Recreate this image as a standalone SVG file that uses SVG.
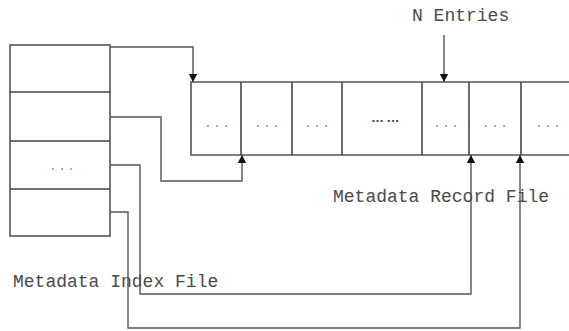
<svg xmlns="http://www.w3.org/2000/svg" width="569" height="331" viewBox="0 0 569 331">
<style>
.box{fill:#fff;stroke:#555;stroke-width:1.6}
.div{stroke:#444;stroke-width:1.6}
.conn{fill:none;stroke:#555;stroke-width:1.4}
.lbl{font-family:"Liberation Mono",monospace;font-size:18px;fill:#4a4a4a}
.dots{font-family:"Liberation Mono",monospace;font-size:12px;fill:#888;text-anchor:middle;letter-spacing:2px}
.dots2{font-family:"Liberation Sans",sans-serif;font-size:13px;font-weight:bold;fill:#444;text-anchor:middle;letter-spacing:-0.5px}
</style>
<defs>
<marker id="ah" viewBox="0 0 8 14" refX="8" refY="7" markerWidth="8" markerHeight="14" markerUnits="userSpaceOnUse" orient="auto">
<path d="M0,2.8 L8,7 L0,11.2 Z" fill="#111"/>
</marker>
</defs>
<rect width="569" height="331" fill="#fff"/>
<g id="index-file">
<rect class="box" x="10" y="45" width="100" height="191"/>
<line class="div" x1="10" y1="92" x2="110" y2="92"/>
<line class="div" x1="10" y1="141" x2="110" y2="141"/>
<line class="div" x1="10" y1="189" x2="110" y2="189"/>
<text class="dots" x="63" y="170">...</text>
</g>
<g id="record-file">
<path class="box" d="M569,82 L191,82 L191,155 L569,155"/>
<line class="div" x1="241" y1="82" x2="241" y2="155"/>
<line class="div" x1="292" y1="82" x2="292" y2="155"/>
<line class="div" x1="342" y1="82" x2="342" y2="155"/>
<line class="div" x1="422" y1="82" x2="422" y2="155"/>
<line class="div" x1="469" y1="82" x2="469" y2="155"/>
<line class="div" x1="521" y1="82" x2="521" y2="155"/>
<text class="dots" x="218" y="127">...</text>
<text class="dots" x="268" y="127">...</text>
<text class="dots" x="318" y="127">...</text>
<text class="dots2" x="385" y="122">… …</text>
<text class="dots" x="447" y="127">...</text>
<text class="dots" x="496" y="127">...</text>
<text class="dots" x="549" y="127">...</text>
</g>
<g id="labels">
<text class="lbl" x="412" y="21">N Entries</text>
<text class="lbl" x="333" y="202">Metadata Record File</text>
<text class="lbl" x="13" y="287">Metadata Index File</text>
</g>
<g id="connectors">
<path class="conn" d="M110,47 H193 V82" marker-end="url(#ah)"/>
<path class="conn" d="M110,117 H161 V181 H242 V155" marker-end="url(#ah)"/>
<path class="conn" d="M110,165 H140 V294 H471 V155" marker-end="url(#ah)"/>
<path class="conn" d="M110,212 H128 V328 H520 V155" marker-end="url(#ah)"/>
<path class="conn" d="M444,35 V82" marker-end="url(#ah)"/>
</g>
</svg>
